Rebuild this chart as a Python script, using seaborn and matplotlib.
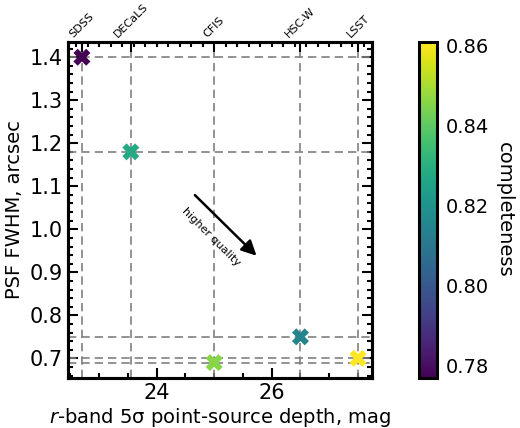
import numpy as np
import pandas as pd
import matplotlib
matplotlib.use("Agg")
import matplotlib.pyplot as plt
import seaborn as sns
from matplotlib.ticker import MultipleLocator

surveys = ["SDSS", "DECaLS", "CFIS", "HSC-W", "LSST"]
depth = [22.7, 23.55, 25.0, 26.5, 27.5]
fwhm = [1.40, 1.18, 0.69, 0.75, 0.70]
completeness = [0.777, 0.828, 0.846, 0.815, 0.861]

df = pd.DataFrame({"survey": surveys, "depth": depth, "fwhm": fwhm, "completeness": completeness})

sns.set_style("ticks", rc={"axes.edgecolor": "black", "text.color": "black",
                           "axes.labelcolor": "black", "xtick.color": "black",
                           "ytick.color": "black"})
plt.rcParams["font.family"] = ["DejaVu Sans"]

fig = plt.figure(figsize=(5.2, 4.28), dpi=100)
ax = fig.add_axes([0.131, 0.117, 0.584, 0.785])

vmin, vmax = min(completeness), max(completeness)
norm = plt.Normalize(vmin, vmax)

for x in depth:
    ax.axvline(x, color="gray", ls=(0, (5, 3)), lw=1.2, zorder=1)
for y in fwhm:
    ax.axhline(y, color="gray", ls=(0, (5, 3)), lw=1.2, zorder=1)

sns.scatterplot(data=df, x="depth", y="fwhm", hue="completeness", palette="viridis",
                hue_norm=norm, marker="X", s=150, linewidth=0, legend=False, ax=ax, zorder=3)

ax.set_xlim(22.46, 27.74)
ax.set_ylim(0.6545, 1.4355)

ax.xaxis.set_major_locator(MultipleLocator(2))
ax.xaxis.set_minor_locator(MultipleLocator(0.5))
ax.yaxis.set_major_locator(MultipleLocator(0.1))
ax.yaxis.set_minor_locator(MultipleLocator(0.02))
ax.tick_params(which="both", direction="in", top=False, right=True, width=1.5)
ax.tick_params(which="major", length=7, labelsize=15, pad=4)
ax.tick_params(which="minor", length=3.5)
for sp in ax.spines.values():
    sp.set_linewidth(2.2)

ax.set_xlabel(r"$r$-band 5σ point-source depth, mag", fontsize=14, labelpad=2)
ax.set_ylabel("PSF FWHM, arcsec", fontsize=14, labelpad=4)

ax2 = ax.twiny()
ax2.set_xlim(ax.get_xlim())
ax2.set_xticks(depth)
ax2.set_xticklabels(surveys, rotation=45, fontsize=8)
ax2.xaxis.set_minor_locator(MultipleLocator(0.2))
ax2.tick_params(which="both", direction="in", width=1.5, pad=2)
ax2.tick_params(which="major", length=7)
ax2.tick_params(which="minor", length=3.5)
for sp in ax2.spines.values():
    sp.set_linewidth(2.2)

ax.annotate("", xy=(25.77, 0.934), xytext=(24.63, 1.084),
            arrowprops=dict(arrowstyle="-|>,head_length=0.9,head_width=0.45", color="black", lw=1.8))
ax.text(24.95, 0.983, "higher quality", rotation=-45, fontsize=8, ha="center", va="center")

cax = fig.add_axes([0.806, 0.117, 0.035, 0.785])
sm = matplotlib.cm.ScalarMappable(norm=norm, cmap="viridis")
cb = fig.colorbar(sm, cax=cax)
cb.set_ticks([0.78, 0.80, 0.82, 0.84, 0.86])
cb.ax.yaxis.set_minor_locator(MultipleLocator(0.005))
cb.ax.tick_params(which="both", direction="in", width=1.5, labelsize=14, pad=6)
cb.ax.tick_params(which="major", length=7)
cb.ax.tick_params(which="minor", length=3.5)
cb.outline.set_linewidth(2.2)
cb.set_label("completeness", rotation=270, fontsize=14, labelpad=18)

fig.savefig("out.png", dpi=100)
